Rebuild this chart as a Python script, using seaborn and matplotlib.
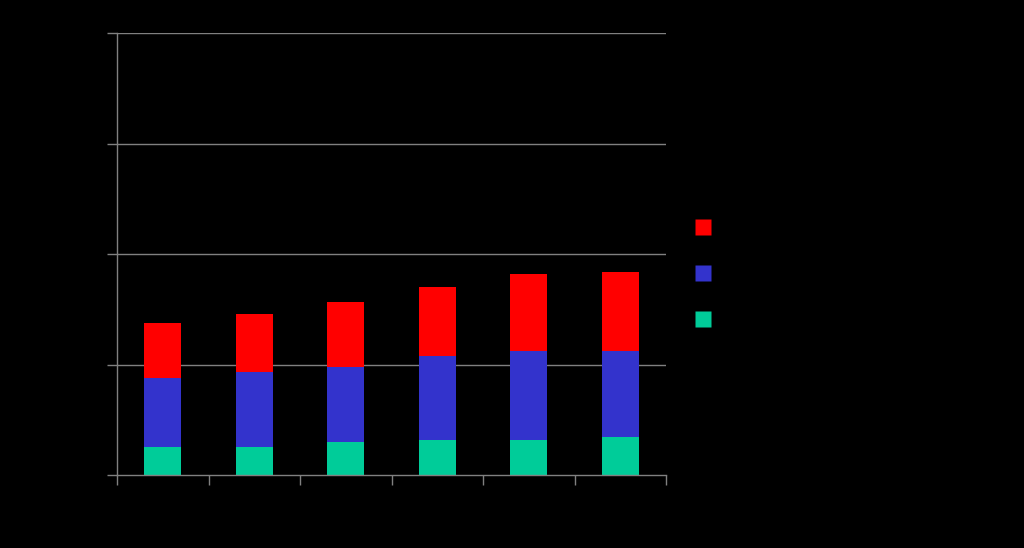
import matplotlib
matplotlib.use("Agg")
import matplotlib.pyplot as plt
from matplotlib.lines import Line2D
import seaborn as sns
import pandas as pd
import numpy as np

# Data
categories = ["2001", "2002", "2003", "2004", "2005", "2006"]
series_names = ["Series 3", "Series 2", "Series 1"]  # legend order: top to bottom
green_vals = [25, 25, 30, 32, 32, 34]
blue_vals = [63, 68, 68, 76, 80, 78]
red_vals = [50, 53, 59, 62, 70, 72]
y_ticks = [0, 100, 200, 300, 400]

RED = "#FF0000"
BLUE = "#3333CC"
GREEN = "#00CC99"
GRID = "#808080"

sns.set_style("dark")
plt.rcParams["font.family"] = ["DejaVu Sans"]

fig = plt.figure(figsize=(10.24, 5.48), dpi=100, facecolor="black")
ax = fig.add_axes([117/1024, 73/548, 549/1024, 442/548])
ax.set_facecolor("black")

green = np.array(green_vals)
blue = np.array(blue_vals)
red = np.array(red_vals)
df = pd.DataFrame({
    "cat": categories,
    "top": green + blue + red,
    "mid": green + blue,
    "low": green,
})

ax.set_axisbelow(True)
for y in y_ticks[1:]:
    ax.axhline(y, color=GRID, lw=1, zorder=0)

sns.barplot(data=df, x="cat", y="top", color=RED, width=0.4, saturation=1,
            ax=ax, edgecolor="none", linewidth=0)
sns.barplot(data=df, x="cat", y="mid", color=BLUE, width=0.4, saturation=1,
            ax=ax, edgecolor="none", linewidth=0)
sns.barplot(data=df, x="cat", y="low", color=GREEN, width=0.4, saturation=1,
            ax=ax, edgecolor="none", linewidth=0)

ax.set_xlim(-0.5, len(categories) - 0.5)
ax.set_ylim(0, 400)
ax.grid(False)

# category axis: ticks between categories
ax.set_xticks(np.arange(len(categories) + 1) - 0.5)
ax.set_xticklabels([""] * (len(categories) + 1))
ax.set_xticks(np.arange(len(categories)), minor=True)
ax.set_xticklabels(categories, minor=True, color="black", fontsize=10)
ax.tick_params(axis="x", which="major", direction="out", length=7.5, width=1,
               color=GRID, bottom=True)
ax.tick_params(axis="x", which="minor", length=0, pad=12, bottom=True)
ax.set_yticks(y_ticks)
ax.set_yticklabels([str(v) for v in y_ticks], color="black", fontsize=10)
ax.tick_params(axis="y", direction="out", length=7.5, width=1, color=GRID, left=True)
ax.set_xlabel("")
ax.set_ylabel("")

for s in ["top", "right"]:
    ax.spines[s].set_visible(False)
for s in ["left", "bottom"]:
    ax.spines[s].set_visible(True)
    ax.spines[s].set_color(GRID)
    ax.spines[s].set_linewidth(1)

handles = [
    Line2D([], [], marker="s", linestyle="none", markersize=12,
           markerfacecolor=c, markeredgecolor="none")
    for c in (RED, BLUE, GREEN)
]
leg = fig.legend(handles, series_names, loc="upper left",
                 bbox_to_anchor=(688/1024, 1 - 212/548), frameon=False,
                 fontsize=12, labelcolor="black", labelspacing=1.67,
                 handlelength=1.0, handletextpad=0.6, borderaxespad=0)

fig.savefig("out.png", dpi=100, facecolor="black")
